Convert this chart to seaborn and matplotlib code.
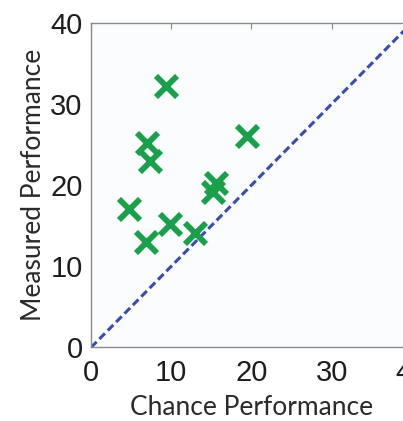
import matplotlib
matplotlib.use("Agg")
import matplotlib.pyplot as plt
import seaborn as sns
import pandas as pd

# data
chance = [9.3, 19.5, 7.0, 7.3, 4.7, 6.9, 9.8, 13.0, 15.6, 15.2]
measured = [32.2, 26.1, 25.2, 23.0, 17.1, 13.0, 15.2, 14.1, 20.2, 19.1]
diag_x = [0, 40]
diag_y = [0, 40]
ticks = [0, 10, 20, 30, 40]

df = pd.DataFrame({"chance": chance, "measured": measured})
diag = pd.DataFrame({"x": diag_x, "y": diag_y})

sns.set_style("white")

fig = plt.figure(figsize=(4.03, 4.21), dpi=100)
ax = fig.add_axes([0.2258, 0.1746, 0.7965, 0.7715])
ax.set_facecolor("#fbfcfe")

sns.lineplot(data=diag, x="x", y="y", ax=ax, color="#3a4cb0",
             linewidth=2.2, linestyle=(0, (2.6, 1.3)))
sns.scatterplot(data=df, x="chance", y="measured", ax=ax, marker="x",
                s=230, linewidth=4.2, color="#1aa04a", zorder=3)

ax.set_xlim(0, 40)
ax.set_ylim(0, 40)
ax.set_xticks(ticks)
ax.set_yticks(ticks)
ax.set_xticklabels([str(t) for t in ticks], family="Liberation Sans", fontsize=21, color="#1e1e1e")
ax.set_yticklabels([str(t) for t in ticks], family="Liberation Sans", fontsize=21, color="#1e1e1e")
ax.tick_params(direction="in", length=4, width=0.8, color="#888888",
               top=True, right=True)
ax.tick_params(axis="x", pad=8)
ax.tick_params(axis="y", pad=6)

for sp in ax.spines.values():
    sp.set_color("#8a8a8a")
    sp.set_linewidth(1.0)

ax.set_xlabel("Chance Performance", family="Lato", fontsize=19, color="#2a2a2a", labelpad=6)
ax.set_ylabel("Measured Performance", family="Lato", fontsize=19, color="#2a2a2a", labelpad=3)

fig.savefig("out.png", dpi=100)
